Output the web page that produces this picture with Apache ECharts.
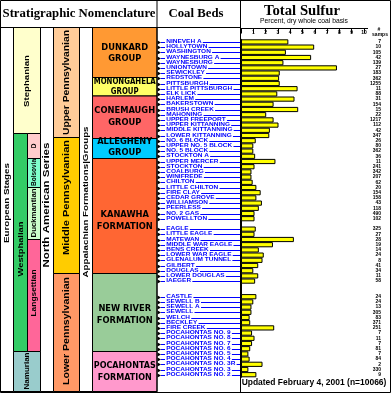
<!DOCTYPE html>
<html><head><meta charset="utf-8">
<script src="https://cdn.jsdelivr.net/npm/echarts@6/dist/echarts.min.js"></script>
<style>html,body{margin:0;padding:0;background:#fff}#c{width:391px;height:393px}</style>
</head><body><div id="c"></div>
<script>
// ---------- DATA ----------
// null / '' entries are blank rows (gaps) in the chart
const coalBeds = ['NINEVEH A','HOLLYTOWN','WASHINGTON','WAYNESBURG A','WAYNESBURG','UNIONTOWN','SEWICKLEY','REDSTONE','PITTSBURGH','LITTLE PITTSBURGH','ELK LICK','HARLEM','BAKERSTOWN','BRUSH CREEK','MAHONING','UPPER FREEPORT','UPPER KITTANNING','MIDDLE KITTANNING','LOWER KITTANNING','NO. 6 BLOCK','UPPER NO. 5 BLOCK','NO. 5 BLOCK','STOCKTON A','UPPER MERCER','STOCKTON','COALBURG','WINIFREDE','CHILTON','LITTLE CHILTON','FIRE CLAY','CEDAR GROVE','WILLIAMSON','PEERLESS','NO. 2 GAS','POWELLTON',
  null,
  'EAGLE','LITTLE EAGLE','MATEWAN','MIDDLE WAR EAGLE','BENS CREEK','LOWER WAR EAGLE','GLENALUM TUNNEL','GILBERT','DOUGLAS','LOWER DOUGLAS','IAEGER',
  null, null,
  'CASTLE','SEWELL B','SEWELL A','SEWELL','WELCH','BECKLEY','FIRE CREEK','POCAHONTAS NO. 9','POCAHONTAS NO. 8','POCAHONTAS NO. 7','POCAHONTAS NO. 6','POCAHONTAS NO. 5','POCAHONTAS NO. 4','POCAHONTAS NO. 3R','POCAHONTAS NO. 3','POCAHONTAS NO. 2'];
const sulfurPercent = [3.85,5.95,3.65,5.7,3.45,7.8,3.15,3.1,3.15,4.6,2.95,4.35,2.65,4.65,2.05,2.65,3.05,2.35,2.3,1.2,1.0,1.0,1.15,2.8,1.1,0.85,0.85,0.95,1.25,1.6,1.25,1.7,1.45,1.1,1.1,
  null,
  1.2,1.1,4.3,2.6,1.45,1.85,1.75,1.4,1.0,1.4,1.15,
  null, null,
  1.25,1.0,0.85,0.85,0.7,0.75,2.7,0.9,1.1,0.9,0.75,0.6,0.7,1.75,0.6,1.25];
const sampleCounts = ['7','10','105','42','139','27','183','362','1255','11','88','31','154','15','22','1217','112','42','347','26','80','362','36','11','241','342','207','62','20','154','158','43','118','490','102',
  '',
  '325','27','28','19','14','24','8','41','34','11','58',
  '', '',
  '24','24','13','305','83','371','251','7','11','7','81','7','84','2','330','9'];
const sulfurTickLabels = ['', '1','2','3','4','5','6','7','8','9','10'];

const europeanStages = ['Stephanian','Westphalian','Bolsovian','D','Duckmantian','Langsettian','Namurian'];
const northAmericanSeries = ['Upper Pennsylvanian','Middle Pennsylvanian','Lower Pennsylvanian'];
const appalachianUnits = ['DUNKARD\nGROUP','MONONGAHELA\nGROUP','CONEMAUGH\nGROUP','ALLEGHENY\nGROUP','KANAWHA\nFORMATION','NEW RIVER\nFORMATION','POCAHONTAS\nFORMATION'];
const columnTitles = ['European Stages','North American Series','Appalachian Formations|Groups'];
const headerTexts = ['Stratigraphic Nomenclature','Coal Beds','Total Sulfur','Percent, dry whole coal basis','#','samps','Updated February 4, 2001 (n=10066)'];

// ---------- LAYOUT ----------
const SANS = '"Liberation Sans", Arial, sans-serif';
const SERIF = '"Liberation Serif", "Times New Roman", serif';
const G = {left:241, right:27, top:39.3, bottom:15.7};
const T0 = 27.5, B0 = 391.5;
const mctx = document.createElement('canvas').getContext('2d');
function measure(text, size, weight, fam){ mctx.font = weight+' '+size+'px '+fam; return Math.max.apply(null, text.split('\n').map(l=>mctx.measureText(l).width)); }
function fitSize(text, w, weight, fam){ return 100*w/measure(text,100,weight,fam); }

const stageLayout = [
  {x0:13.5,x1:40.5,y0:T0,y1:133.5,fill:'#FFFFCC',cy:81,w:52,size:7.5},
  {x0:13.5,x1:27.5,y0:133.5,y1:351.5,fill:'#33CC66',cy:249,w:55,size:8},
  {x0:27.5,x1:40.5,y0:158.5,y1:187.5,fill:'#80FFCC',bottom:true,size:6.5},
  {x0:27.5,x1:40.5,y0:133.5,y1:158.5,fill:'#FFCCCC',cy:146,size:6.5},
  {x0:27.5,x1:40.5,y0:187.5,y1:239.5,fill:'#CCFFCC',cy:213,w:49,size:6.3},
  {x0:27.5,x1:40.5,y0:239.5,y1:351.5,fill:'#FF6699',cy:293,w:47,size:6.5},
  {x0:13.5,x1:40.5,y0:351.5,y1:B0,fill:'#99CCCC',cy:371,w:37,size:6.3}
];
const seriesLayout = [
  {y0:T0,y1:137.5,fill:'#FFCC99',cy:82.5,w:105},
  {y0:137.5,y1:273.5,fill:'#FFCC00',cy:197.5,w:115},
  {y0:273.5,y1:B0,fill:'#FF9966',cy:331,w:108}
];
const unitLayout = [
  {y0:T0,y1:77.5,fill:'#FF9933',cy:53.8,lh:11},
  {y0:77.5,y1:96,fill:'#FFFF66',cy:87,lh:10.6},
  {y0:96,y1:138.5,fill:'#FF6666',cy:117,lh:11.6},
  {y0:138.5,y1:158.5,fill:'#00CCFF',cy:147.5,lh:11.6},
  {y0:158.5,y1:273.5,fill:'#FF6633',cy:220.8,lh:11.6},
  {y0:273.5,y1:351.5,fill:'#99CC99',cy:314.5,lh:12},
  {y0:351.5,y1:B0,fill:'#FF99CC',cy:371.7,lh:12}
];
const titleLayout = [{x0:0.5,x1:13.5,cy:203,w:80,size:8},{x0:40.5,x1:53.5,cy:205,w:125,size:9},{x0:79.5,x1:92.5,cy:202,w:151,size:7.5}];

const graphics = [];
function rect(x0,y0,x1,y1,fill){ graphics.push({type:'rect',shape:{x:x0,y:y0,width:x1-x0,height:y1-y0},style:{fill:fill,stroke:'#000',lineWidth:1},silent:true}); }
function vtext(text,cx,cy,size,w,opts){ opts=opts||{}; const sx = w ? w/measure(text,size,'bold',SANS) : 1;
  graphics.push({type:'text',x:cx,y:cy,rotation:Math.PI/2,scaleX:sx,silent:true,
  style:{text:text,font:'bold '+size+'px '+SANS,fill:'#000',align:opts.align||'center',verticalAlign:'middle'}}); }
function line(x1,y1,x2,y2){ graphics.push({type:'line',shape:{x1,y1,x2,y2},style:{stroke:'#000',lineWidth:1},silent:true}); }

titleLayout.forEach((t,i)=>{ rect(t.x0,T0,t.x1,B0,'#fff'); vtext(columnTitles[i],(t.x0+t.x1)/2,t.cy,t.size,t.w); });
stageLayout.forEach((s,i)=>{ rect(s.x0,s.y0,s.x1,s.y1,s.fill);
  if (s.bottom) vtext(europeanStages[i],(s.x0+s.x1)/2,s.y1-1.5,s.size,null,{align:'left'});
  else vtext(europeanStages[i],(s.x0+s.x1)/2,s.cy,s.size,s.w);
});
seriesLayout.forEach((s,i)=>{ rect(53.5,s.y0,79.5,s.y1,s.fill); vtext(northAmericanSeries[i],66.5,s.cy,9,s.w); });
const UF = '"DejaVu Sans"';
const unitSize = 8;
const unitScale = 56/measure('FORMATION',unitSize,'bold',UF);
unitLayout.forEach((u,i)=>{ rect(92.5,u.y0,157,u.y1,u.fill);
  const sc = Math.min(unitScale, 62/measure(appalachianUnits[i],unitSize,'bold',UF));
  graphics.push({type:'text',x:124.75,y:u.cy,scaleX:sc,silent:true,style:{text:appalachianUnits[i],font:'bold '+unitSize+'px '+UF,fill:'#000',align:'center',verticalAlign:'middle',lineHeight:u.lh}});
});
line(157,0,157,393); line(240.5,0,240.5,393); line(0,T0,240.5,T0); line(240.5,28.5,368,28.5);
graphics.push({type:'rect',shape:{x:0.5,y:0.5,width:390,height:392},style:{fill:null,stroke:'#000',lineWidth:1},silent:true});
function htext(text,cx,cy,w,weight,fam){ const s=fitSize(text,w,weight,fam); graphics.push({type:'text',x:cx,y:cy,silent:true,style:{text:text,font:weight+' '+s.toFixed(2)+'px '+fam,fill:'#000',align:'center',verticalAlign:'middle'}}); }
htext(headerTexts[0],79,14,153,'bold',SERIF);
htext(headerTexts[1],196,14,55,'bold',SERIF);
htext(headerTexts[2],302,11.5,76,'bold',SERIF);
htext(headerTexts[3],304,21,88,'normal',SANS);
graphics.push({type:'text',x:379,y:30,silent:true,style:{text:headerTexts[4],font:'bold 5px '+SANS,fill:'#000',align:'center',verticalAlign:'middle'}});
graphics.push({type:'text',x:380,y:35,silent:true,style:{text:headerTexts[5],font:'bold 5px '+SANS,fill:'#000',align:'center',verticalAlign:'middle'}});
htext(headerTexts[6],314,383,145,'bold',SANS);

const bedSize = 5.3;
const bedScale = 66/measure('LITTLE PITTSBURGH',bedSize,'bold',SANS);
const slotIds = coalBeds.map((n,i)=>'r'+i);

const chart = echarts.init(document.getElementById('c'), null, {renderer:'canvas'});
chart.setOption({
  animation:false,
  backgroundColor:'#fff',
  grid:{left:G.left,right:G.right,top:G.top,bottom:G.bottom,containLabel:false,outerBoundsMode:'none'},
  xAxis:{type:'value',min:0,max:10,interval:1,position:'top',offset:G.top-28.5,
    axisLine:{show:true,lineStyle:{color:'#000',width:1}},
    axisTick:{show:true,inside:true,length:5,lineStyle:{color:'#000'}},
    axisLabel:{inside:true,margin:2,fontSize:5,fontWeight:'bold',color:'#000',fontFamily:SANS,formatter:(v)=>sulfurTickLabels[Math.round(v)]},
    splitLine:{show:false}},
  yAxis:[
    {type:'category',data:slotIds,inverse:true,axisLine:{show:true,lineStyle:{color:'#000'}},axisTick:{show:false},axisLabel:{show:false},splitLine:{show:false}},
    {type:'category',data:slotIds,inverse:true,position:'right',axisLine:{show:false},axisTick:{show:false},splitLine:{show:false},
      axisLabel:{show:true,interval:0,align:'right',margin:17,fontSize:5,fontWeight:'bold',color:'#000',fontFamily:SANS,formatter:(v,i)=>sampleCounts[i]}}
  ],
  graphic:graphics,
  series:[
    {type:'bar',data:sulfurPercent,barCategoryGap:'0%',silent:true,
      itemStyle:{color:'#FFFF00',borderColor:'#000',borderWidth:1}},
    {type:'custom',silent:true,clip:false,
      data:coalBeds.map((n,i)=>[0,i]),encode:{x:0,y:1},
      renderItem:function(params,api){
        const i = api.value(1); const name = coalBeds[i];
        if(!name) return null;
        const y = Math.round(api.coord([0,i])[1])+0.5;
        return {type:'group',children:[
          {type:'polygon',shape:{points:[[157.5,y-2],[161,y],[157.5,y+2]]},style:{fill:'#000'}},
          {type:'line',shape:{x1:161,y1:y,x2:240,y2:y},style:{stroke:'#0000FF',lineWidth:1}},
          {type:'text',x:165,y:y-0.5,scaleX:bedScale,style:{text:name,font:'bold '+bedSize+'px '+SANS,fill:'#0000FF',align:'left',verticalAlign:'middle',backgroundColor:'#fff',padding:[0,1,0,1]}}
        ]};
      }}
  ]
});
</script></body></html>
